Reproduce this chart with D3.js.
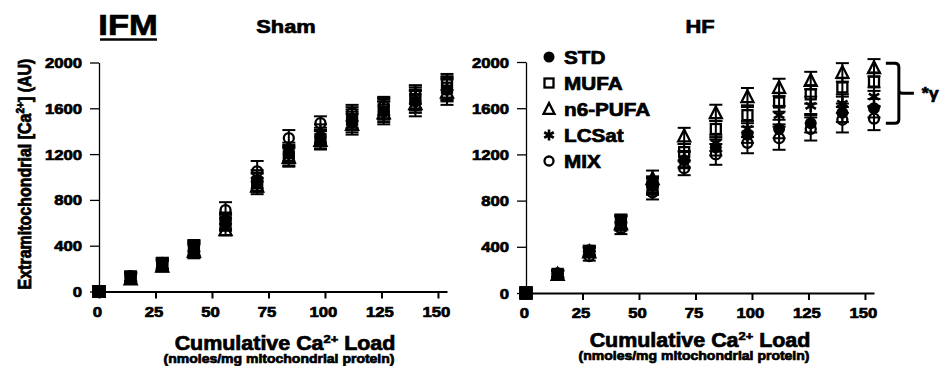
<!DOCTYPE html>
<html>
<head>
<meta charset="utf-8">
<script src="https://cdn.jsdelivr.net/npm/d3@7"></script>
<style>
  body { margin: 0; background: #fff; }
  svg { display: block; font-family: "Liberation Sans", Arial, sans-serif; font-weight: bold; }
  svg text { stroke: #000; stroke-width: 0.7px; fill: #000; }
</style>
</head>
<body>
<svg id="chart" width="948" height="366"></svg>
<script>
/* ================================
   DATA
================================ */
const loads = [0, 14, 28, 42, 56, 70, 84, 98, 112, 126, 140, 154];
const seriesNames = ["STD", "MUFA", "n6-PUFA", "LCSat", "MIX"];
const xTicks = [0, 25, 50, 75, 100, 125, 150];
const yTicks = [0, 400, 800, 1200, 1600, 2000];

// Sham
const shamSTD   = [0, 120, 230, 370, 620, 960, 1200, 1350, 1480, 1570, 1660, 1760];
const shamMUFA  = [0, 130, 240, 380, 610, 950, 1180, 1330, 1500, 1590, 1680, 1780];
const shamN6    = [0, 110, 220, 350, 540, 920, 1170, 1320, 1460, 1560, 1640, 1740];
const shamLCSat = [0, 115, 235, 360, 600, 980, 1220, 1380, 1520, 1600, 1700, 1770];
const shamMIX   = [0, 135, 250, 400, 710, 1050, 1340, 1470, 1560, 1620, 1720, 1830];
const shamSTDErr   = [0, 40, 45, 60, 70, 80, 80, 80, 90, 90, 100, 100];
const shamMUFAErr  = [0, 40, 50, 60, 70, 80, 80, 80, 90, 90, 100, 100];
const shamN6Err    = [0, 40, 45, 60, 50, 70, 80, 80, 90, 100, 110, 110];
const shamLCSatErr = [0, 40, 45, 60, 70, 80, 80, 80, 90, 90, 100, 100];
const shamMIXErr   = [0, 40, 45, 50, 70, 90, 70, 60, 70, 80, 80, 70];

// HF
const hfSTD   = [0, 170, 370, 620, 940, 1150, 1260, 1370, 1420, 1470, 1560, 1600];
const hfMUFA  = [0, 165, 360, 610, 930, 1220, 1420, 1540, 1650, 1720, 1780, 1830];
const hfN6    = [0, 160, 355, 600, 990, 1360, 1560, 1700, 1780, 1840, 1910, 1950];
const hfLCSat = [0, 165, 350, 610, 920, 1160, 1300, 1420, 1540, 1620, 1640, 1700];
const hfMIX   = [0, 160, 320, 560, 870, 1080, 1200, 1300, 1340, 1420, 1500, 1510];
const hfSTDErr   = [0, 30, 40, 60, 70, 70, 70, 70, 80, 80, 80, 80];
const hfMUFAErr  = [0, 30, 40, 60, 70, 70, 70, 70, 80, 80, 80, 80];
const hfN6Err    = [0, 30, 40, 60, 70, 70, 70, 75, 75, 75, 80, 75];
const hfLCSatErr = [0, 30, 40, 60, 70, 70, 70, 70, 80, 80, 80, 80];
const hfMIXErr   = [0, 30, 40, 50, 60, 60, 90, 90, 100, 100, 110, 100];

// significance bracket on HF (beside the last load)
const bracketLoad = 165;
const bracketRange = [1470, 1990];
const bracketLabel = "*γ";

const sham = [
  [shamSTD, shamSTDErr], [shamMUFA, shamMUFAErr], [shamN6, shamN6Err],
  [shamLCSat, shamLCSatErr], [shamMIX, shamMIXErr]
];
const hf = [
  [hfSTD, hfSTDErr], [hfMUFA, hfMUFAErr], [hfN6, hfN6Err],
  [hfLCSat, hfLCSatErr], [hfMIX, hfMIXErr]
];

/* ================================
   HELPERS
================================ */
const svg = d3.select("#chart");
const SX = 1.15; // source picture is stretched horizontally

function addText(g, x, y, str, size, anchor = "middle", sx = SX) {
  return g.append("text")
    .attr("transform", `translate(${x},${y}) scale(${sx},1)`)
    .attr("text-anchor", anchor)
    .style("font-size", size + "px")
    .text(str);
}

function caLabel(g, x, y, size) {
  const t = g.append("text")
    .attr("transform", `translate(${x},${y}) scale(1.1,1)`)
    .attr("text-anchor", "middle")
    .style("font-size", size + "px");
  t.append("tspan").text("Cumulative Ca");
  t.append("tspan").attr("dy", -7).style("font-size", (size * 0.6) + "px").text("2+");
  t.append("tspan").attr("dy", 7).text(" Load");
  return t;
}

function asteriskPath(r) {
  const a = Math.PI / 6;
  const dx = r * Math.cos(a), dy = r * Math.sin(a);
  return `M0,${-r}L0,${r}M${-dx},${-dy}L${dx},${dy}M${-dx},${dy}L${dx},${-dy}`;
}

function drawMarker(g, i, x, y, s, fill = "none") {
  const stroke = 2.3;
  if (i === 0) {
    g.append("circle").attr("cx", x).attr("cy", y).attr("r", s / 2)
      .attr("fill", "#000");
  } else if (i === 1) {
    g.append("rect").attr("x", x - s / 2 + 1).attr("y", y - s / 2 + 1)
      .attr("width", s - 2).attr("height", s - 2)
      .attr("fill", fill).attr("stroke", "#000").attr("stroke-width", stroke);
  } else if (i === 2) {
    const h = s * 0.9;
    g.append("path")
      .attr("d", `M${x},${y - h / 2 - 1}L${x + s / 2},${y + h / 2}L${x - s / 2},${y + h / 2}Z`)
      .attr("fill", fill).attr("stroke", "#000").attr("stroke-width", stroke);
  } else if (i === 3) {
    g.append("path").attr("transform", `translate(${x},${y})`)
      .attr("d", asteriskPath(s / 2))
      .attr("stroke", "#000").attr("stroke-width", 2.6);
  } else {
    g.append("circle").attr("cx", x).attr("cy", y).attr("r", s / 2 - 1)
      .attr("fill", fill).attr("stroke", "#000").attr("stroke-width", stroke);
  }
}

/* ================================
   PANEL
================================ */
function drawPanel(cfg, data) {
  const g = svg.append("g");
  const x = d3.scaleLinear().domain([0, 154]).range([cfg.x0, cfg.x1]);
  const y = d3.scaleLinear().domain([0, 2000]).range([cfg.y0, cfg.y1]);

  // y axis
  const yAxisG = g.append("g")
    .attr("transform", `translate(${x(0)},0)`)
    .call(d3.axisLeft(y).tickValues(yTicks).tickFormat(d3.format("d"))
      .tickSize(9).tickSizeOuter(0));
  yAxisG.selectAll("path, line").attr("stroke", "#000").attr("stroke-width", 1.3);
  yAxisG.selectAll("text")
    .attr("x", null).attr("dy", null)
    .attr("transform", `translate(-17,5) scale(${SX},1)`)
    .style("font-size", "14.5px");
  yAxisG.attr("font-family", null).attr("font-size", null);

  // x axis
  const xAxisG = g.append("g")
    .attr("transform", `translate(0,${y(0)})`)
    .call(d3.axisBottom(x).tickValues(xTicks).tickFormat(d3.format("d"))
      .tickSize(7).tickSizeOuter(0));
  xAxisG.selectAll("path, line").attr("stroke", "#000").attr("stroke-width", 2);
  xAxisG.selectAll("text")
    .attr("y", null).attr("dy", null)
    .attr("transform", `translate(-2,25) scale(${SX},1)`)
    .style("font-size", "14.5px");
  xAxisG.attr("font-family", null).attr("font-size", null);

  // error bars
  const eb = g.append("g").attr("stroke", "#000").attr("stroke-width", 2);
  data.forEach(([vals, errs]) => {
    loads.forEach((l, k) => {
      if (l === 0 || !errs[k]) return;
      const cx = x(l), top = y(vals[k] + errs[k]), bot = y(vals[k] - errs[k]);
      eb.append("line").attr("x1", cx).attr("x2", cx).attr("y1", top).attr("y2", bot);
      eb.append("line").attr("x1", cx - 6.5).attr("x2", cx + 6.5).attr("y1", top).attr("y2", top);
      eb.append("line").attr("x1", cx - 6.5).attr("x2", cx + 6.5).attr("y1", bot).attr("y2", bot);
    });
  });

  // markers
  const mk = g.append("g");
  data.forEach(([vals], i) => {
    loads.forEach((l, k) => {
      if (l === 0) {
        mk.append("rect").attr("x", x(l) - 6.5).attr("y", y(vals[k]) - 6.5)
          .attr("width", 13).attr("height", 13).attr("fill", "#000");
      } else {
        drawMarker(mk, i, x(l), y(vals[k]), 12);
      }
    });
  });

  // titles
  addText(g, cfg.titleX, 33, cfg.title, 19);
  caLabel(g, cfg.xtX, cfg.xtY, 19.5);
  addText(g, cfg.xtX - 6, cfg.xtY + 13, "(nmoles/mg mitochondrial protein)", 12.5, "middle", 1.12);

  return { g, x, y };
}

/* ================================
   BUILD
================================ */
drawPanel({ x0: 99, x1: 447, y0: 291.5, y1: 62.5, titleX: 286, title: "Sham", xtX: 285, xtY: 350 }, sham);
const right = drawPanel({ x0: 526, x1: 874, y0: 293, y1: 62, titleX: 700, title: "HF", xtX: 700, xtY: 347 }, hf);

// IFM label
addText(svg, 128, 35, "IFM", 30);
svg.append("line").attr("x1", 100).attr("x2", 157).attr("y1", 39.5).attr("y2", 39.5)
  .attr("stroke", "#000").attr("stroke-width", 2.5);

// y axis title (left panel)
const yt = svg.append("text")
  .attr("transform", "translate(31,174) rotate(-90) scale(1,1.15)")
  .attr("text-anchor", "middle")
  .style("font-size", "16px");
yt.append("tspan").text("Extramitochondrial [Ca");
yt.append("tspan").attr("dy", -6).style("font-size", "10px").text("2+");
yt.append("tspan").attr("dy", 6).text("] (AU)");

// legend
const lg = svg.append("g");
seriesNames.forEach((name, i) => {
  const ly = 57 + i * 26;
  drawMarker(lg, i, 549, ly, 11, "#fff");
  addText(lg, 564, ly + 6.5, name, 18, "start");
});

// significance bracket
{
  const bx = right.x(bracketLoad);
  const yt0 = right.y(bracketRange[1]), yb0 = right.y(bracketRange[0]);
  const ym = (yt0 + yb0) / 2;
  const r = 4;
  svg.append("path")
    .attr("d", `M${bx - 13},${yt0}L${bx - r},${yt0}Q${bx},${yt0} ${bx},${yt0 + r}` +
      `L${bx},${yb0 - r}Q${bx},${yb0} ${bx - r},${yb0}L${bx - 13},${yb0}` +
      `M${bx},${ym - 3}Q${bx},${ym} ${bx + 4},${ym}L${bx + 15},${ym}`)
    .attr("fill", "none").attr("stroke", "#000").attr("stroke-width", 3);
  addText(svg, bx + 23, ym + 6, bracketLabel, 17, "start", 1.05);
}
</script>
</body>
</html>
